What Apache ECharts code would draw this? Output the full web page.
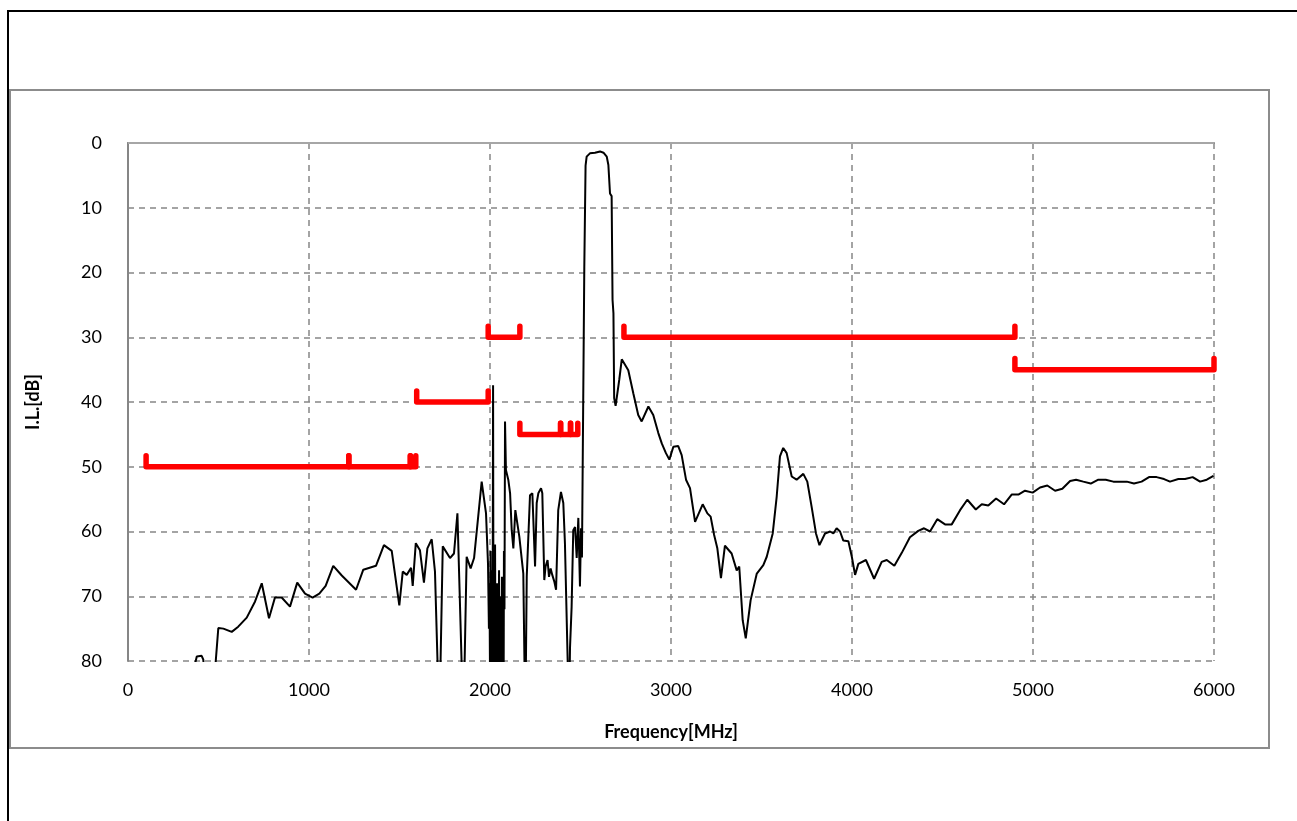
<!DOCTYPE html>
<html>
<head>
<meta charset="utf-8">
<script src="https://cdn.jsdelivr.net/npm/echarts@6/dist/echarts.min.js"></script>
<style>
html,body{margin:0;padding:0;background:#fff;}
#chart{width:1297px;height:821px;}
</style>
</head>
<body>
<div id="chart"></div>
<script>
// Measured insertion loss curve: frequency [MHz]
const freqMHz = [300,365,370,380,407,416,431,471,499,527,573,609,656,702,739,779,812,849,895,935,978,1020,1057,1092,1134,1181,1260,1300,1370,1414,1457,1499,1518,1540,1564,1573,1590,1613,1635,1654,1678,1696,1720,1739,1779,1801,1820,1853,1871,1893,1912,1954,1978,1989,1994,1997,2000,2003,2006,2008,2011,2014,2017,2020,2022,2025,2028,2031,2033,2036,2039,2042,2044,2047,2050,2053,2055,2058,2061,2064,2066,2069,2072,2075,2077,2080,2083,2088,2101,2111,2120,2129,2140,2162,2184,2195,2203,2221,2234,2249,2258,2267,2282,2289,2300,2307,2318,2326,2335,2344,2355,2365,2377,2392,2405,2414,2429,2436,2442,2451,2460,2470,2479,2488,2497,2503,2508,2521,2528,2534,2552,2580,2608,2627,2645,2654,2663,2672,2677,2682,2686,2694,2714,2728,2764,2792,2819,2838,2875,2902,2930,2949,2972,2991,3013,3040,3059,3083,3105,3133,3175,3201,3219,3238,3256,3276,3298,3335,3363,3377,3396,3413,3440,3474,3510,3529,3562,3584,3602,3620,3639,3667,3694,3731,3753,3777,3801,3820,3851,3879,3897,3915,3934,3952,3980,3999,4017,4035,4077,4122,4164,4192,4234,4275,4320,4366,4398,4431,4471,4514,4551,4597,4637,4684,4717,4753,4796,4840,4882,4919,4956,4998,5039,5079,5122,5162,5205,5238,5278,5319,5361,5402,5444,5518,5558,5600,5641,5683,5724,5757,5803,5840,5882,5923,5960,5997];
// insertion loss [dB]
const lossDB = [90,82,80.5,79.3,79.2,79.8,85,85,74.9,75.0,75.5,74.7,73.3,70.8,68.0,73.4,70.2,70.2,71.6,67.9,69.6,70.2,69.6,68.4,65.3,66.8,69.0,65.9,65.3,62.1,63.0,71.4,66.2,66.7,65.6,68.4,61.8,62.9,67.9,62.6,61.2,66.2,90,62.3,64.1,63.4,57.2,90,63.9,65.7,64.1,52.3,57.2,65,75,68,82,63,88,70,66,85,37.4,90,72,84,62,88,71,82,68,90,74,86,66,88,70,82,70,90,67,84,67,88,63,72,43.0,50.5,52.0,54.1,59.8,62.6,56.7,60.8,66.5,90,67,54.4,54.1,65.4,55.6,54.1,53.3,54.1,67.5,65.4,64.4,67.0,65.7,66.7,67.7,69.0,56.7,53.9,55.6,61.8,79.8,90,78,71.6,59.8,59.3,64.1,57.9,68.5,59.5,64,19.1,3.5,2.1,1.6,1.5,1.3,1.5,2.1,3.4,7.8,8.2,24.2,26.3,39.4,40.6,36.6,33.4,35.1,38.7,42.0,43.0,40.7,42.0,44.8,46.4,47.9,48.9,46.9,46.8,48.2,52.0,53.3,58.5,55.8,57.2,57.7,60.5,62.6,67.2,62.2,63.4,66.0,65.4,73.7,76.5,70.6,66.5,65.2,63.9,60.3,54.6,48.4,47.1,47.9,51.5,52.0,51.1,52.3,56.2,60.3,62.1,60.3,60.0,60.3,59.5,60.0,61.4,61.5,63.9,66.7,65.0,64.4,67.3,64.7,64.4,65.3,63.3,60.9,59.9,59.5,60.0,58.1,58.9,58.9,56.7,55.1,56.6,55.8,56.0,54.9,55.8,54.3,54.3,53.7,54.0,53.2,52.9,53.7,53.4,52.2,52.0,52.3,52.6,52.0,52.0,52.3,52.3,52.6,52.3,51.6,51.6,51.9,52.3,51.9,51.9,51.6,52.3,52.0,51.4];

// Spec limit segments: start freq, end freq, level [dB]
const limitStart = [100,1220,1560,1595,1990,2165,2390,2445,2740,4900];
const limitEnd   = [1220,1560,1590,1990,2165,2390,2445,2485,4900,6000];
const limitLevel = [50,50,50,40,30,45,45,45,30,35];
const flagDepth = 1.7; // dB height of end flags

const xTicks = [0,1000,2000,3000,4000,5000,6000];
const yTicks = [0,10,20,30,40,50,60,70,80];

const curve = freqMHz.map((f,i)=>[f,lossDB[i]]);

const FONT = 'Lato';
const series = [];
limitStart.forEach((s,i)=>{
  const e = limitEnd[i], v = limitLevel[i];
  series.push({
    type:'line', silent:true, symbol:'none', z:3,
    data:[[s,v-flagDepth],[s,v],[e,v],[e,v-flagDepth]],
    lineStyle:{color:'#ff0000',width:5.5,cap:'round',join:'round'}
  });
});
series.push({
  type:'line', silent:true, symbol:'none', z:4, clip:true,
  data:curve,
  lineStyle:{color:'#000000',width:2},
  markLine:{silent:true,symbol:'none',label:{show:false},
    lineStyle:{color:'#a6a6a6',type:'solid',width:2},
    data:[{yAxis:yTicks[0]}]}
});

const chart = echarts.init(document.getElementById('chart'),null,{renderer:'canvas'});
chart.setOption({
  animation:false,
  backgroundColor:'#ffffff',
  grid:{left:128,right:83,top:143,bottom:160,containLabel:false},
  xAxis:{
    type:'value', min:xTicks[0], max:xTicks[xTicks.length-1], interval:1000,
    name:'Frequency[MHz]', nameLocation:'middle', nameGap:62,
    nameTextStyle:{fontFamily:FONT,fontSize:18,fontWeight:'bold',color:'#000'},
    axisLine:{show:true,lineStyle:{color:'#868686',width:2}},
    axisTick:{show:false},
    axisLabel:{fontFamily:FONT,fontSize:18,color:'#000',margin:20,formatter:v=>String(v)},
    splitLine:{show:true,lineStyle:{color:'#868686',type:[6,5],width:1.5}}
  },
  yAxis:{
    type:'value', inverse:true, min:yTicks[0], max:yTicks[yTicks.length-1], interval:10,
    name:'I.L.[dB]', nameLocation:'middle', nameGap:86, nameRotate:90,
    nameTextStyle:{fontFamily:FONT,fontSize:18,fontWeight:'bold',color:'#000'},
    axisLine:{show:true,lineStyle:{color:'#868686',width:2}},
    axisTick:{show:false},
    axisLabel:{fontFamily:FONT,fontSize:18,color:'#000',margin:26,formatter:v=>String(v)},
    splitLine:{show:true,lineStyle:{color:'#868686',type:[6,5],width:1.5}}
  },
  graphic:[
    {type:'polyline',silent:true,shape:{points:[[8,821],[8,11],[1297,11]]},style:{stroke:'#000',lineWidth:2,fill:null}},
    {type:'rect',silent:true,shape:{x:10,y:90,width:1259,height:658},style:{stroke:'#8c8c8c',lineWidth:2,fill:null}}
  ],
  series:series
});
</script>
</body>
</html>
